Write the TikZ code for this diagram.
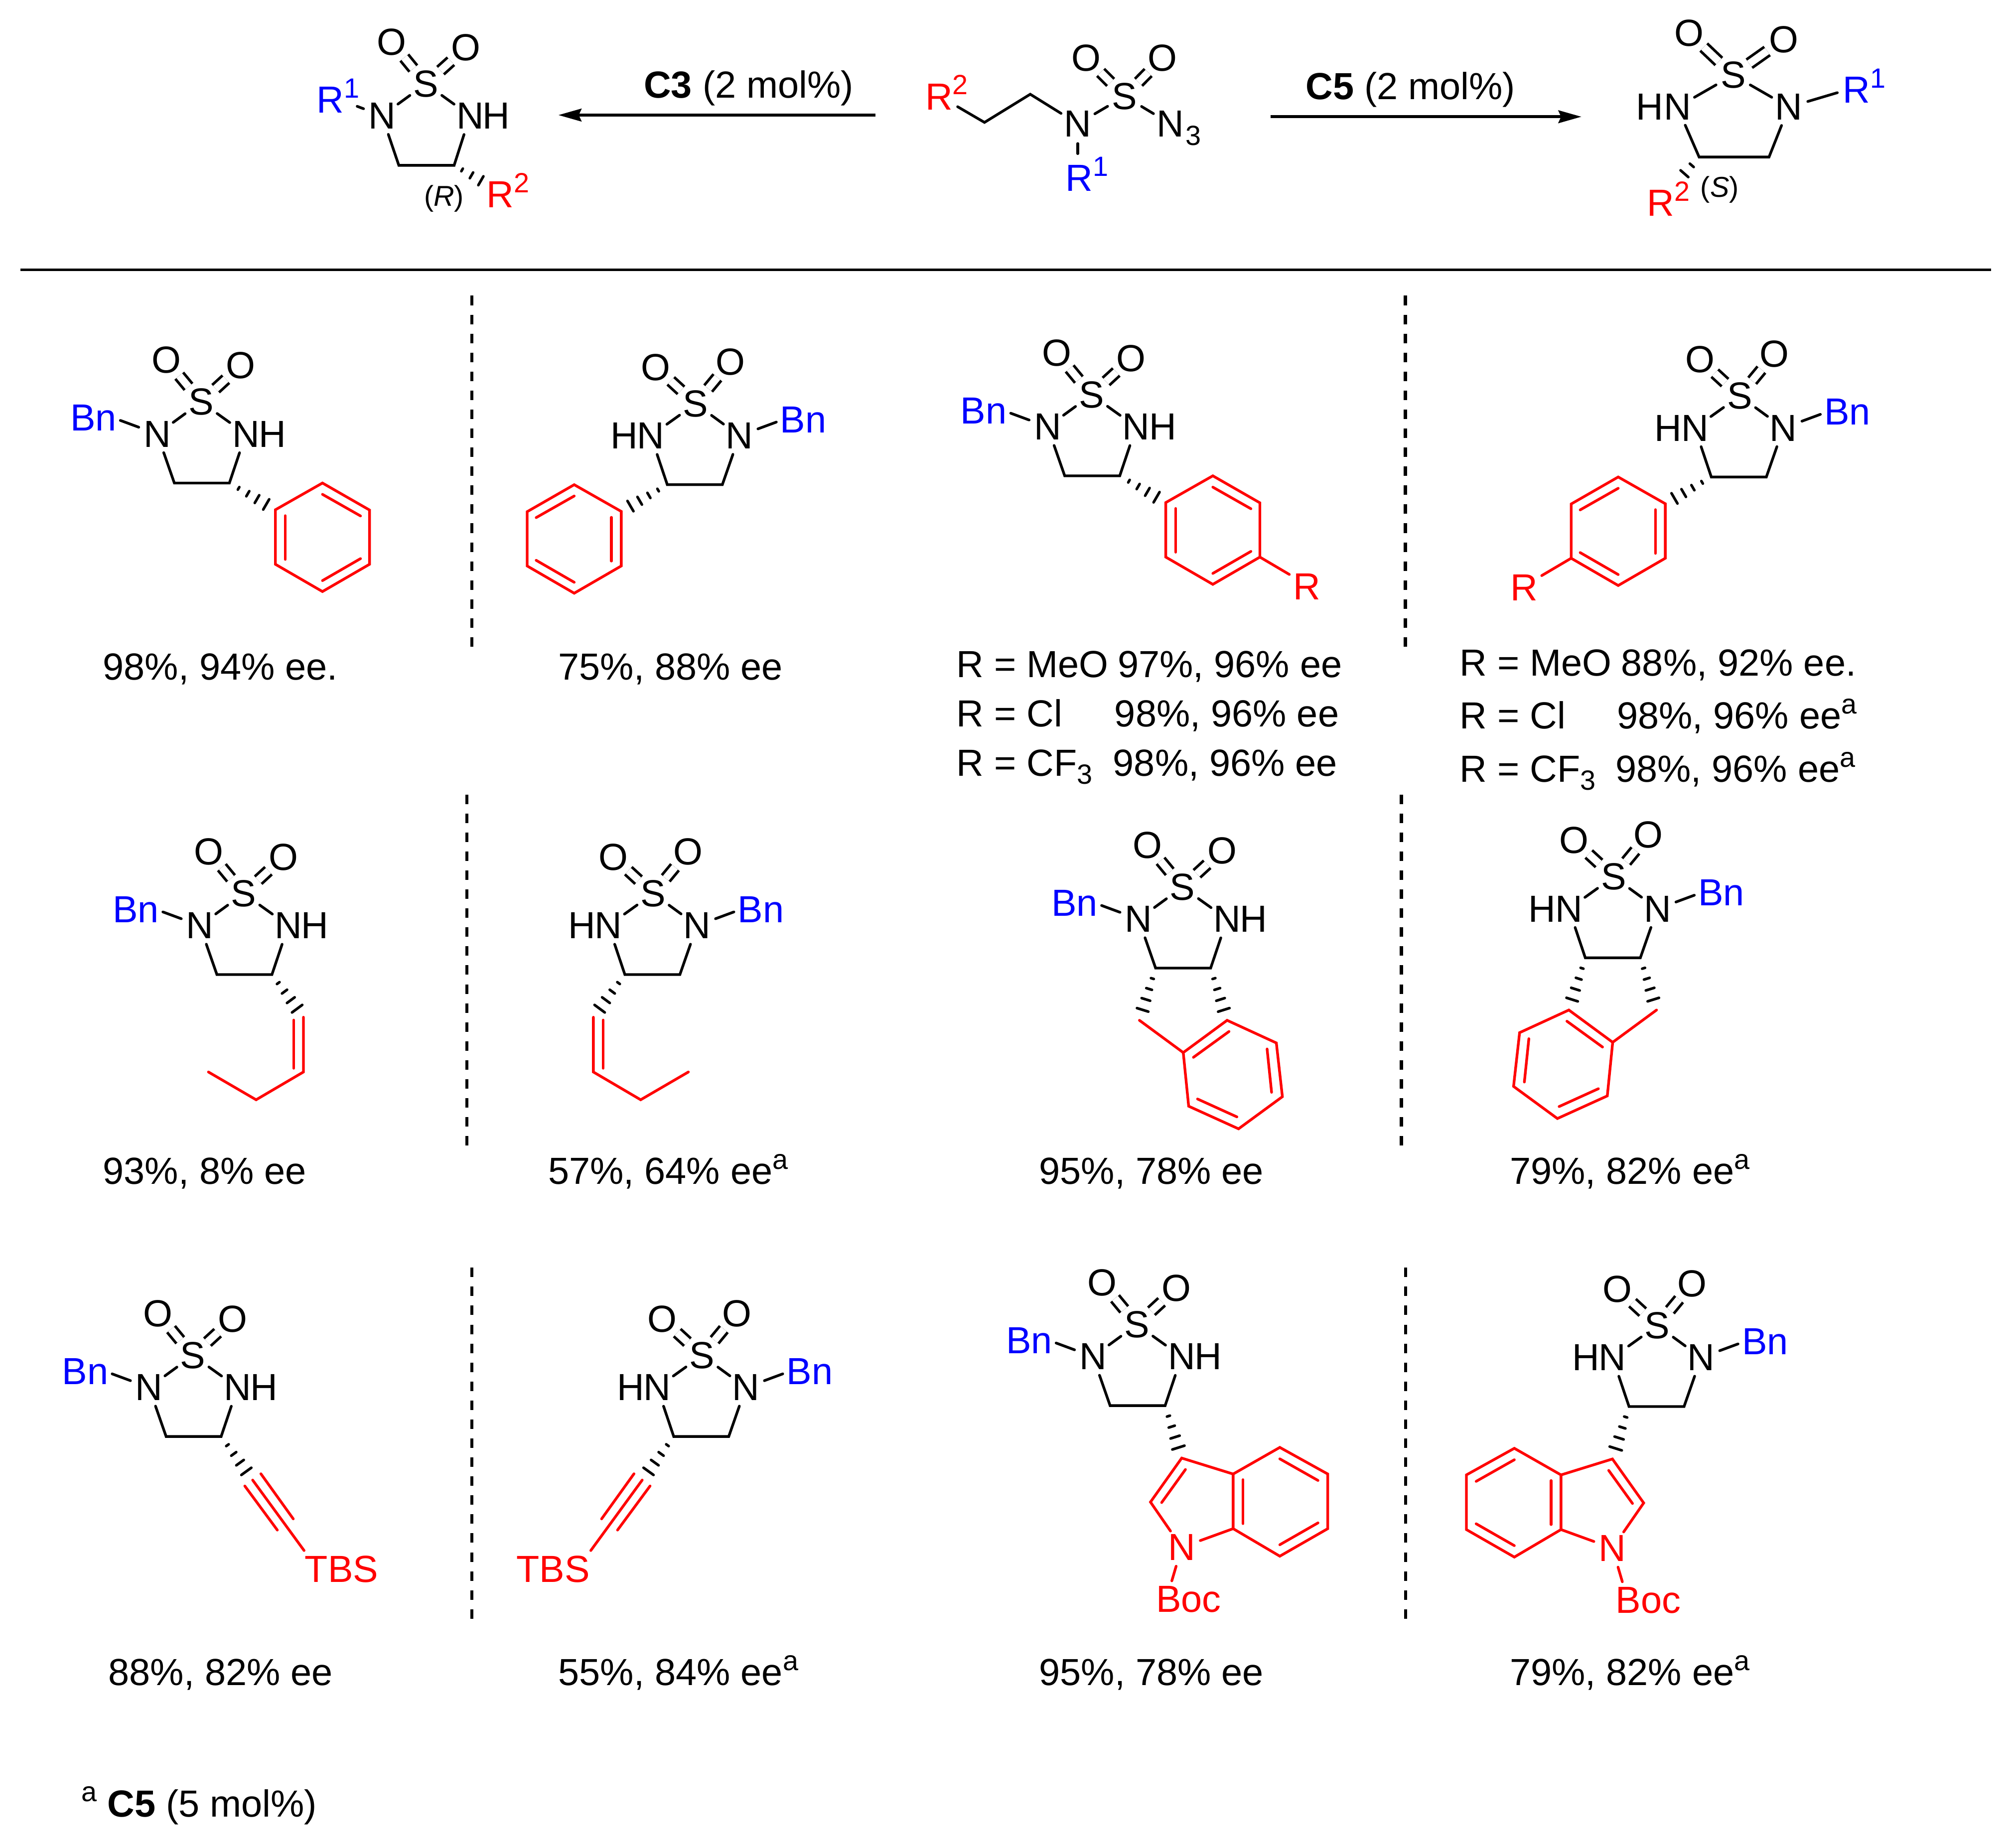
\documentclass[tikz,border=0pt]{standalone}
\usepackage{fontspec}
\setmainfont{Liberation Sans}
\usetikzlibrary{calc,arrows.meta}
\definecolor{rblue}{RGB}{0,0,255}
\definecolor{rred}{RGB}{255,0,0}
\newcommand{\mainf}{\fontsize{16.7}{20}\selectfont}
\newcommand{\smallf}{\fontsize{12.3}{14}\selectfont}
\newcommand{\supp}[1]{\raisebox{6.7pt}{\smallf #1}}
\newcommand{\subb}[1]{\raisebox{-3.6pt}{\smallf #1}}
\tikzset{
  atom/.style={circle,inner sep=0pt,minimum size=0.6cm,font=\mainf},
  ratom/.style={atom,text=rred},
  lab/.style={inner sep=0pt,font=\mainf},
  txt/.style={inner sep=0pt,font=\mainf,anchor=base west,xshift=-0.6pt},
  bluel/.style={txt,text=rblue},
  redl/.style={txt,text=rred},
  bluec/.style={lab,text=rblue},
  redc/.style={lab,text=rred},
  stereo/.style={inner sep=0pt,font=\fontsize{12.7}{14}\selectfont},
  bond/.style={line width=1.18pt,line cap=round,line join=miter},
  rbond/.style={bond,draw=rred},
  dbond/.style={line width=1.18pt,double=white,double distance=3.26pt},
  hashl/.style={line width=1.15pt,line cap=round},
  arrowline/.style={line width=1.3pt,-{Stealth[length=10.2pt,width=5.6pt,inset=1.2pt]}},
  divider/.style={line width=1.1pt},
  vdash/.style={line width=1.4pt,dash pattern=on 4.2pt off 4.2pt}
}
\newcommand{\hashb}[4]{\foreach \hT in {#1}{\draw[hashl] ($(#3)!\hT!(#4)!{\hT*#2*0.569pt}!90:(#4)$) -- ($(#3)!\hT!(#4)!{\hT*#2*0.569pt}!-90:(#4)$);}}
% ring template: prefix, x, y, mirror sign, substituent
\newcommand{\ringmol}[5]{%
\begin{scope}[shift={(#2,#3)},xscale=#4,name prefix=#1-]
  \node[atom] (S) at (0,0) {S};
  \node[atom] (Oa) at (-27,-32.6) {O};
  \node[atom] (Ob) at (30.9,-28.4) {O};
  \node[atom] (Nb) at (-34.1,24.9) {N};
  \node[atom] (Nh) at (34.8,24.9) {N};
  \node[lab] (Hh) at (55.5,24.9) {H};
  \node[bluec] (Bn) at (-83.8,12.4) {Bn};
  \coordinate (bs) at (-62.8,14.3);
  \coordinate (Ca) at (-20.8,63);
  \coordinate (Cb) at (22,63);
  \draw[dbond] (S) -- (Oa);
  \draw[dbond] (S) -- (Ob);
  \draw[bond] (S) -- (Nb);
  \draw[bond] (S) -- (Nh);
  \draw[bond] (bs) -- (Nb);
  \draw[bond] (Nb) -- (Ca) -- (Cb) -- (Nh);
  #5
\end{scope}}
\newcommand{\phenylsub}{%
  \coordinate (p1) at (57.8,83.8);
  \coordinate (p2) at (94.4,63);
  \coordinate (p3) at (131,84);
  \coordinate (p4) at (131,126.2);
  \coordinate (p5) at (94.4,147.4);
  \coordinate (p6) at (57.8,126.2);
  \hashb{0.2,0.4,0.6,0.8}{5.8}{Cb}{p1}
  \draw[rbond] (p1) -- (p2) -- (p3) -- (p4) -- (p5) -- (p6) -- cycle;
  \draw[rbond] (94.4,71.8) -- (124,88.6);
  \draw[rbond] (124,121.8) -- (94.4,138.9);
  \draw[rbond] (65.5,88.4) -- (65.5,122.4);
}
\newcommand{\arylsub}{%
  \phenylsub
  \node[redc] (Rr) at (167.7,149.1) {R};
  \coordinate (Re) at (153.9,139.7);
  \draw[rbond] (p4) -- (Re);
}
\newcommand{\alkenesub}{%
  \coordinate (a1) at (46.5,96.2);
  \coordinate (a2) at (46.5,138.8);
  \coordinate (a3) at (9.7,160.4);
  \coordinate (a4) at (-27.4,138.8);
  \hashb{0.2,0.4,0.6,0.8}{6.2}{Cb}{a1}
  \draw[rbond] (a1) -- (a2) -- (a3) -- (a4);
  \draw[rbond] (38.9,98.4) -- (38.9,135.9);
}
\newcommand{\indanesub}{%
  \coordinate (i1) at (-33.4,103.6);
  \coordinate (i2) at (0.7,128.7);
  \coordinate (i3) at (34.8,103.6);
  \coordinate (i4) at (73.1,121.2);
  \coordinate (i5) at (77.8,163);
  \coordinate (i6) at (43.7,188);
  \coordinate (i7) at (4.9,170.4);
  \hashb{0.2,0.4,0.6,0.8}{5.8}{Ca}{i1}
  \hashb{0.2,0.4,0.6,0.8}{5.8}{Cb}{i3}
  \draw[rbond] (i1) -- (i2);
  \draw[rbond] (i2) -- (i3) -- (i4) -- (i5) -- (i6) -- (i7) -- cycle;
  \draw[rbond] (8.6,132.4) -- (36.3,112.3);
  \draw[rbond] (65.9,125.9) -- (69.4,159.6);
  \draw[rbond] (11.8,164.8) -- (42.4,178.7);
}
\newcommand{\alkynesub}{%
  \coordinate (y1) at (46.5,96.9);
  \coordinate (y2) at (86.5,151.7);
  \node[redc] (Tbs) at (115.7,166.4) {TBS};
  \hashb{0.2,0.4,0.6,0.8}{6}{Cb}{y1}
  \draw[rbond] (y1) -- (y2);
  \draw[rbond] (40.4,101.5) -- (65.7,135.8);
  \draw[rbond] (52.9,92) -- (78.1,127.1);
}
\newcommand{\indolesub}[1]{%
  \coordinate (c3) at (34.9,103.8);
  \coordinate (c3a) at (74.9,116.2);
  \coordinate (c7a) at (74.9,158.7);
  \coordinate (c2) at (10.6,138);
  \node[ratom] (n1) at (34.9,173.2) {N};
  \coordinate (c4) at (111.2,95.5);
  \coordinate (c5) at (148.5,116.2);
  \coordinate (c6) at (148.5,158.7);
  \coordinate (c7) at (111.2,180.1);
  \node[redc] (Boc) at (#1,213.7) {Boc};
  \coordinate (be) at (27.2,199.3);
  \hashb{0.2,0.4,0.6,0.8}{6.2}{Cb}{c3}
  \draw[rbond] (n1) -- (c2) -- (c3) -- (c3a) -- (c7a) -- (n1);
  \draw[rbond] (c3a) -- (c4) -- (c5) -- (c6) -- (c7) -- (c7a);
  \draw[rbond] (n1) -- (be);
  \draw[rbond] (37.8,112.7) -- (19.3,138.4);
  \draw[rbond] (82.6,120.6) -- (82.6,154.8);
  \draw[rbond] (111.2,104.4) -- (140.9,121.2);
  \draw[rbond] (140.9,154.2) -- (111.2,171.2);
}
\begin{document}
\begin{tikzpicture}[x=0.02cm,y=-0.02cm]
\useasboundingbox (0,0) rectangle (1568,1435.8);
\fill[white] (0,0) rectangle (1568,1435.8);

% Product A
\node[atom] (aS) at (331.2,65.2) {S};
\node[atom] (aO1) at (304.5,32.6) {O};
\node[atom] (aO2) at (362.4,37.1) {O};
\node[atom] (aN1) at (297.1,90) {N};
\node[atom] (aN2) at (365.6,90) {N};
\node[lab] (aH) at (386.1,90) {H};
\coordinate (aC1) at (310.2,128.6);
\coordinate (aC2) at (353.2,128.6);
\node[bluel] (aR1) at (247.1,87.9) {R\supp{1}};
\node[redl] (aR2) at (379.3,161.5) {R\supp{2}};
\node[stereo] (aSt) at (345.3,154.4) {(\textit{R})};
\coordinate (aR1e) at (277.8,82.7);
\coordinate (aR2e) at (389.7,149.6);
\draw[dbond] (aS) -- (aO1);
\draw[dbond] (aS) -- (aO2);
\draw[bond] (aS) -- (aN1);
\draw[bond] (aS) -- (aN2);
\draw[bond] (aN1) -- (aC1) -- (aC2) -- (aN2);
\draw[bond] (aR1e) -- (aN1);
\hashb{0.17,0.37,0.57}{7}{aC2}{aR2e}

% Substrate
\node[atom] (mS) at (874.7,74.9) {S};
\node[atom] (mO1) at (844.9,45.2) {O};
\node[atom] (mO2) at (904.1,45.2) {O};
\node[atom] (mN) at (838.3,96.3) {N};
\node[atom] (mN3) at (910.3,96.3) {N};
\node[txt] (mN3s) at (922.8,113) {\smallf 3};
\node[redl] (mR2) at (720.4,85.3) {R\supp{2}};
\node[bluel] (mR1) at (829.6,148.6) {R\supp{1}};
\coordinate (mc0) at (744.8,83);
\coordinate (mc1) at (765.7,95.2);
\coordinate (mc2) at (801.3,73.3);
\coordinate (mR1e) at (838.3,119.5);
\draw[dbond] (mS) -- (mO1);
\draw[dbond] (mS) -- (mO2);
\draw[bond] (mS) -- (mN);
\draw[bond] (mS) -- (mN3);
\draw[bond] (mc0) -- (mc1) -- (mc2) -- (mN);
\draw[bond] (mN) -- (mR1e);

% Product B
\node[atom] (bS) at (1348,58.4) {S};
\node[atom] (bO1) at (1313.7,25.8) {O};
\node[atom] (bO2) at (1387.3,30.6) {O};
\node[atom] (bN1) at (1304.6,83.3) {N};
\node[atom] (bN2) at (1391.3,83.3) {N};
\node[lab] (bH) at (1283.2,83.3) {H};
\coordinate (bC1) at (1321.5,122.1);
\coordinate (bC2) at (1375.9,122.1);
\node[bluel] (bR1) at (1434.2,80.1) {R\supp{1}};
\node[redl] (bR2) at (1281.9,168) {R\supp{2}};
\node[stereo] (bSt) at (1337.5,147.3) {(\textit{S})};
\coordinate (bR1e) at (1429,72.1);
\coordinate (bR2e) at (1293,154.6);
\draw[dbond] (bS) -- (bO1);
\draw[dbond] (bS) -- (bO2);
\draw[bond] (bS) -- (bN1);
\draw[bond] (bS) -- (bN2);
\draw[bond] (bN1) -- (bC1) -- (bC2) -- (bN2);
\draw[bond] (bR1e) -- (bN2);
\hashb{0.2,0.4}{10}{bC1}{bR2e}

% Arrows
\coordinate (arLs) at (681,89.5);
\coordinate (arLe) at (434.3,89.5);
\coordinate (arRs) at (988.2,90.8);
\coordinate (arRe) at (1230,90.8);
\draw[arrowline] (arLs) -- (arLe);
\draw[arrowline] (arRs) -- (arRe);
\node[txt] (c3t) at (501.5,76.2) {\textbf{C3} (2 mol\%)};
\node[txt] (c5t) at (1016.2,77.5) {\textbf{C5} (2 mol\%)};

% Divider
\coordinate (dl) at (16,210);
\coordinate (dr) at (1548.5,210);
\draw[divider] (dl) -- (dr);

% Dashed separators
\coordinate (v1a) at (367,230); \coordinate (v1b) at (367,503);
\coordinate (v2a) at (1093,230); \coordinate (v2b) at (1093,503);
\coordinate (v3a) at (363,618); \coordinate (v3b) at (363,893);
\coordinate (v4a) at (1090,618); \coordinate (v4b) at (1090,893);
\coordinate (v5a) at (367,986); \coordinate (v5b) at (367,1259);
\coordinate (v6a) at (1093.3,986); \coordinate (v6b) at (1093.3,1259);
\draw[vdash] (v1a) -- (v1b);
\draw[vdash] (v2a) -- (v2b);
\draw[vdash] (v3a) -- (v3b);
\draw[vdash] (v4a) -- (v4b);
\draw[vdash] (v5a) -- (v5b);
\draw[vdash] (v6a) -- (v6b);

% Row 1
\ringmol{m1}{156.4}{312.7}{1}{\phenylsub}
\ringmol{m2}{541}{314}{-1}{\phenylsub}
\ringmol{m3}{848.9}{307.1}{1}{\arylsub}
\ringmol{m4}{1353}{308}{-1}{\arylsub}
% Row 2
\ringmol{m5}{189.5}{695}{1}{\alkenesub}
\ringmol{m6}{508}{695}{-1}{\alkenesub}
\ringmol{m7}{919.6}{690}{1}{\indanesub}
\ringmol{m8}{1255}{682}{-1}{\indanesub}
% Row 3
\ringmol{m9}{150}{1054.3}{1}{\alkynesub}
\ringmol{m10}{546}{1054.3}{-1}{\alkynesub}
\ringmol{m11}{884.2}{1030.3}{1}{\indolesub{40.3}}
\ringmol{m12}{1289}{1031}{-1}{\indolesub{7}}

% Yields
\node[txt] (y1) at (80.8,528.7) {98\%, 94\% ee.};
\node[txt] (y2) at (435,528.7) {75\%, 88\% ee};
\node[txt] (y3a) at (744.6,527) {R = MeO};
\node[txt] (y3b) at (870,527) {97\%, 96\% ee};
\node[txt] (y3c) at (744.6,565.4) {R = Cl};
\node[txt] (y3d) at (867.6,565.4) {98\%, 96\% ee};
\node[txt] (y3e) at (744.6,603.4) {R = CF\subb{3}};
\node[txt] (y3f) at (866.4,603.4) {98\%, 96\% ee};
\node[txt] (y4a) at (1136,525.5) {R = MeO};
\node[txt] (y4b) at (1261.7,525.5) {88\%, 92\% ee.};
\node[txt] (y4c) at (1136,566.8) {R = Cl};
\node[txt] (y4d) at (1258.3,566.8) {98\%, 96\% ee\supp{a}};
\node[txt] (y4e) at (1136,608.2) {R = CF\subb{3}};
\node[txt] (y4f) at (1257.2,608.2) {98\%, 96\% ee\supp{a}};
\node[txt] (y5) at (80.8,921) {93\%, 8\% ee};
\node[txt] (y6) at (427,921) {57\%, 64\% ee\supp{a}};
\node[txt] (y7) at (809,921) {95\%, 78\% ee};
\node[txt] (y8) at (1175,921) {79\%, 82\% ee\supp{a}};
\node[txt] (y9) at (85,1311) {88\%, 82\% ee};
\node[txt] (y10) at (435,1311) {55\%, 84\% ee\supp{a}};
\node[txt] (y11) at (809,1311) {95\%, 78\% ee};
\node[txt] (y12) at (1175,1311) {79\%, 82\% ee\supp{a}};
% Footnote
\node[txt] (fn) at (64,1413) {\supp{a} \textbf{C5} (5 mol\%)};
\end{tikzpicture}
\end{document}
